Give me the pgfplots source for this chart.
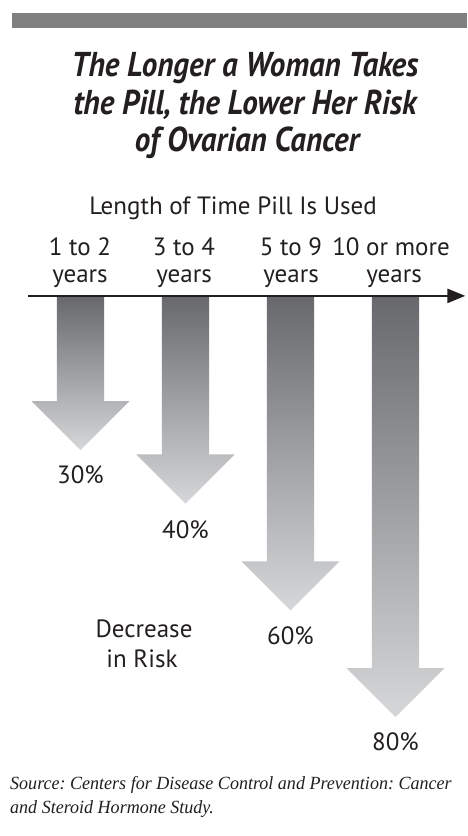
\documentclass[border=0pt]{standalone}
\usepackage{pgfplots}
\pgfplotsset{compat=1.18}
\usepackage{fontspec}
\setmainfont{PT Sans}
\newfontfamily\titlefont[FakeStretch=0.9]{PT Sans}
\newfontfamily\srcfont[FakeStretch=0.97]{Liberation Serif}
\usetikzlibrary{arrows.meta}
\definecolor{ink}{HTML}{231F20}
\definecolor{artop}{HTML}{68696C}
\definecolor{arbot}{HTML}{D6D7D9}
\definecolor{topbar}{HTML}{808080}
\frenchspacing
\begin{document}
\begin{tikzpicture}
\useasboundingbox (0,0) rectangle (467pt,836pt);
\fill[white] (0,0) rectangle (467pt,836pt);
% top gray bar
\fill[topbar] (12pt,808pt) rectangle (467pt,823pt);
\begin{axis}[
  at={(0pt,0pt)}, anchor=south west,
  width=467pt, height=836pt, scale only axis,
  xmin=-0.7667, xmax=3.681,
  ymin=-54.31, ymax=102.25, y dir=reverse,
  hide axis, clip=false,
]
% arrows: tip position = percent decrease in risk
\addplot[draw=none, top color=artop, bottom color=arbot] coordinates {
 (-0.224,1.3) (0.224,1.3) (0.224,20.8) (0.467,20.8) (0,30) (-0.467,20.8) (-0.224,20.8)} -- cycle;
\addplot[draw=none, top color=artop, bottom color=arbot] coordinates {
 (0.776,1.3) (1.224,1.3) (1.224,30.8) (1.467,30.8) (1,40) (0.533,30.8) (0.776,30.8)} -- cycle;
\addplot[draw=none, top color=artop, bottom color=arbot] coordinates {
 (1.776,1.3) (2.224,1.3) (2.224,50.8) (2.467,50.8) (2,60) (1.533,50.8) (1.776,50.8)} -- cycle;
\addplot[draw=none, top color=artop, bottom color=arbot] coordinates {
 (2.776,1.3) (3.224,1.3) (3.224,70.8) (3.467,70.8) (3,80) (2.533,70.8) (2.776,70.8)} -- cycle;
% time axis arrow
\draw[ink, line width=2.6pt, -{Triangle[length=18pt,width=14pt]}] (axis cs:-0.50,1.1) -- (axis cs:3.665,1.1);
% value labels
\node[ink, anchor=base, font=\fontsize{25}{30}\selectfont] at (axis cs:0,36.2) {30\%};
\node[ink, anchor=base, font=\fontsize{25}{30}\selectfont] at (axis cs:1,46.5) {40\%};
\node[ink, anchor=base, font=\fontsize{25}{30}\selectfont] at (axis cs:2,66.3) {60\%};
\node[ink, anchor=base, font=\fontsize{25}{30}\selectfont] at (axis cs:3,86.3) {80\%};
\end{axis}
% title
\begin{scope}[every node/.style={ink, anchor=base, font=\titlefont\bfseries\itshape\fontsize{34.5}{38}\selectfont}]
\node at (245pt,759pt) {The Longer a Woman Takes};
\node at (245pt,721pt) {the Pill, the Lower Her Risk};
\node at (247pt,684pt) {of Ovarian Cancer};
\end{scope}
\begin{scope}[every node/.style={ink, anchor=base, font=\fontsize{25}{30}\selectfont}]
\node at (233pt,621pt) {Length of Time Pill Is Used};
\node at (80pt,580pt) {1 to 2};
\node at (80pt,553pt) {years};
\node at (184pt,580pt) {3 to 4};
\node at (184pt,553pt) {years};
\node at (291pt,580pt) {5 to 9};
\node at (291pt,553pt) {years};
\node at (391pt,580pt) {10 or more};
\node at (394pt,553pt) {years};
\node at (144pt,198pt) {Decrease};
\node at (142pt,168pt) {in Risk};
\end{scope}
% source
\begin{scope}[every node/.style={ink, anchor=base west, inner sep=0pt, font=\srcfont\itshape\fontsize{18.6}{23}\selectfont}]
\node at (10pt,46pt) {Source: Centers for Disease Control and Prevention: Cancer};
\node at (10pt,23pt) {and Steroid Hormone Study.};
\end{scope}
\end{tikzpicture}
\end{document}
